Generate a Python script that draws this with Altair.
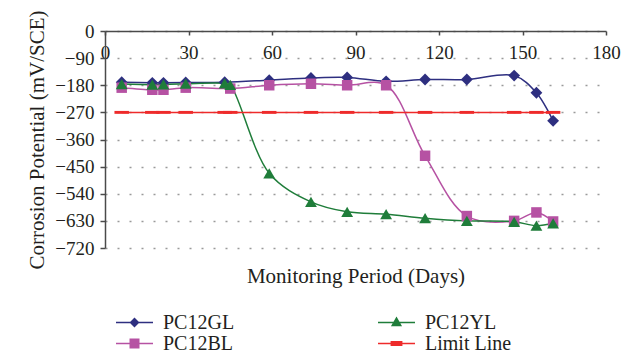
import altair as alt
import pandas as pd

# ---- data ----
gl_days = [6, 17, 21, 29, 43, 59, 74, 87, 101, 115, 130, 147, 155, 161]
gl_vals = [-170, -172, -172, -171, -170, -163, -156, -154, -167, -161, -161, -148, -205, -298]

bl_days = [6, 17, 21, 29, 45, 59, 74, 87, 101, 115, 130, 147, 155, 161]
bl_vals = [-188, -195, -195, -188, -191, -180, -175, -180, -180, -414, -614, -630, -602, -632]

yl_days = [6, 17, 21, 29, 43, 45, 59, 74, 87, 101, 115, 130, 147, 155, 161]
yl_vals = [-176, -178, -177, -175, -174, -179, -472, -567, -600, -608, -621, -630, -633, -646, -638]

limit_days = [6, 17, 21, 29, 43, 45, 59, 74, 87, 101, 115, 130, 147, 155, 161]
limit_vals = [-270] * len(limit_days)

# legend order (column by column): PC12GL, PC12BL | PC12YL, Limit Line
series_names = ["PC12GL", "PC12BL", "PC12YL", "Limit Line"]
series_colors = ["#2E2F80", "#B652A3", "#1F7D3A", "#EE2B2B"]

x_ticks = [0, 30, 60, 90, 120, 150, 180]
y_ticks = [0, -90, -180, -270, -360, -450, -540, -630, -720]

series_data = {
    "PC12GL": (gl_days, gl_vals),
    "PC12BL": (bl_days, bl_vals),
    "PC12YL": (yl_days, yl_vals),
    "Limit Line": (limit_days, limit_vals),
}
rows = []
for name, (days, vals) in series_data.items():
    for d, v in zip(days, vals):
        rows.append({"series": name, "day": d, "value": v})
df = pd.DataFrame(rows)

W, H = 501, 217
FONT = "Liberation Serif"
TXT = "#231f20"

# marker style per series on the chart
pt_style = {
    "PC12GL": ("diamond", 140),
    "PC12BL": ("square", 110),
    "PC12YL": ("triangle-up", 140),
    "Limit Line": ("M-1,-0.2L1,-0.2L1,0.2L-1,0.2Z", 210),
}

# legend symbols: thin bar (line) + marker, all filled
BAR = "M-1,-0.04L1,-0.04L1,0.04L-1,0.04Z"
leg_shapes = [
    BAR + "M0,-0.27L0.27,0L0,0.27L-0.27,0Z",                # PC12GL diamond
    BAR + "M-0.27,-0.27L0.27,-0.27L0.27,0.27L-0.27,0.27Z",  # PC12BL square
    BAR + "M0,-0.32L0.3,0.2L-0.3,0.2Z",                     # PC12YL triangle
    BAR + "M-0.32,-0.13L0.32,-0.13L0.32,0.13L-0.32,0.13Z",  # Limit dash
]

x_enc = alt.X(
    "day:Q",
    scale=alt.Scale(domain=[0, 180], nice=False, zero=False),
    axis=alt.Axis(
        orient="bottom", offset=-H, values=x_ticks, grid=False,
        title="Monitoring Period (Days)", titleY=H + 34, titleBaseline="alphabetic",
        titleFont=FONT, titleFontSize=21, titleFontWeight="normal", titleColor=TXT,
        labelFont=FONT, labelFontSize=19, labelColor=TXT, labelPadding=8,
        labelOverlap=False, labelFlush=False,
        domainColor="#4a4a4a", domainWidth=1.5, tickColor="#4a4a4a", tickWidth=1.5, tickSize=4,
    ),
)
y_enc = alt.Y(
    "value:Q",
    scale=alt.Scale(domain=[-720, 0], nice=False, zero=False),
    axis=alt.Axis(
        values=y_ticks, format="d",
        title="Corrosion Potential (mV/SCE)", titleFont=FONT, titleFontSize=21,
        titleFontWeight="normal", titleColor=TXT, titlePadding=7,
        labelFont=FONT, labelFontSize=19, labelColor=TXT, labelPadding=6,
        domainColor="#4a4a4a", domainWidth=1.5, tickColor="#4a4a4a", tickWidth=1.5, tickSize=5,
        grid=True, gridColor="#9a9a9a", gridDash=[2, 10], gridWidth=1.5,
    ),
)

color_scale = alt.Scale(domain=series_names, range=series_colors)

leg = alt.Legend(
    orient="none", legendX=11, legendY=281, columns=2, columnPadding=143,
    title=None, labelFont=FONT, labelFontSize=20, labelColor=TXT, labelOffset=10,
    symbolSize=1369, symbolOpacity=1, symbolStrokeWidth=0,
    clipHeight=21, rowPadding=0,
)

legend_layer = alt.Chart(df).mark_point(filled=True, opacity=0).encode(
    x=x_enc, y=y_enc,
    color=alt.Color("series:N", scale=color_scale, legend=leg),
    shape=alt.Shape("series:N", scale=alt.Scale(domain=series_names, range=leg_shapes), legend=leg),
)

lines = alt.Chart(df).mark_line(interpolate="catmull-rom", strokeWidth=1.5).encode(
    x=x_enc, y=y_enc,
    color=alt.Color("series:N", scale=color_scale, legend=None),
    detail="series:N",
)

point_layers = []
for name in series_names:
    shp, sz = pt_style[name]
    point_layers.append(
        alt.Chart(df).transform_filter(alt.datum.series == name)
        .mark_point(filled=True, opacity=1, shape=shp, size=sz)
        .encode(x=x_enc, y=y_enc,
                color=alt.Color("series:N", scale=color_scale, legend=None))
    )

chart = alt.layer(legend_layer, lines, *point_layers).properties(
    width=W, height=H,
    autosize=alt.AutoSizeParams(type="none"),
    padding={"left": 97, "top": 23, "right": 22, "bottom": 106},
).configure_view(stroke=None)

chart.save("out.html", embed_options={"renderer": "svg", "actions": False})
